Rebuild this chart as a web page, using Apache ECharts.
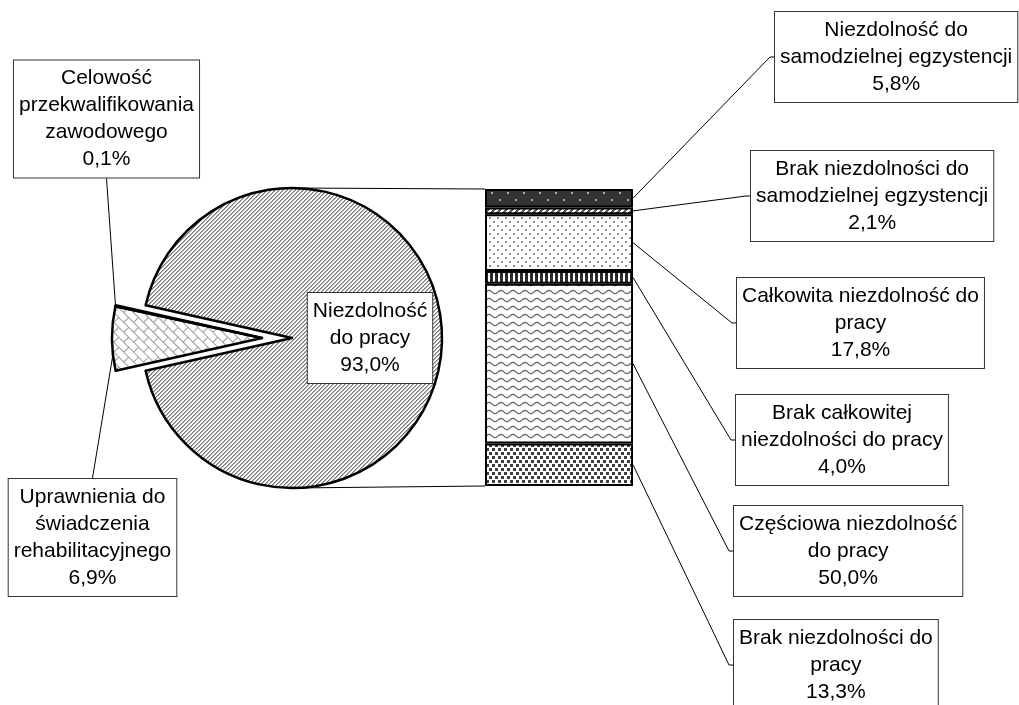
<!DOCTYPE html>
<html>
<head>
<meta charset="utf-8">
<script src="https://cdn.jsdelivr.net/npm/echarts@6/dist/echarts.min.js"></script>
<style>
  html, body { margin: 0; padding: 0; background: #fff; }
  #chart { width: 1019px; height: 705px; }
</style>
</head>
<body>
<div id="chart"></div>
<script>
// pie: first split (order: the two small slices, then the big one)
const pieNames = ['Uprawnienia do\nświadczenia\nrehabilitacyjnego', 'Celowość\nprzekwalifikowania\nzawodowego', 'Niezdolność\ndo pracy'];
const pieValues = [6.9, 0.1, 93.0];

// bar: breakdown of "Niezdolność do pracy", bottom to top
const barNames = [
  'Brak niezdolności do\npracy',
  'Częściowa niezdolność\ndo pracy',
  'Brak całkowitej\nniezdolności do pracy',
  'Całkowita niezdolność do\npracy',
  'Brak niezdolności do\nsamodzielnej egzystencji',
  'Niezdolność do\nsamodzielnej egzystencji'
];
const barValues = [13.3, 50.0, 4.0, 17.8, 2.1, 5.8];

// layout
const PIE_CX = 292, PIE_CY = 338, PIE_R = 150, EXPLODE = 30;
const BAR = { left: 485, top: 189, width: 148, height: 297 };
// label boxes: bar -> [left edge, centre y], pie -> [centre x, centre y]
const barLabelPos = [[733, 665], [733, 551], [735, 440], [736, 323], [750, 196], [774, 57]];
const pieLabelPos = [[92.5, 537.5], [106.5, 119]];

const FONT = '"Liberation Sans", Arial, sans-serif';

function fmt(v) {
  return v.toFixed(1).replace('.', ',') + '%';
}

// ---- fill patterns ----
function tile(w, h, bg, draw) {
  const c = document.createElement('canvas');
  c.width = w; c.height = h;
  const ctx = c.getContext('2d');
  ctx.fillStyle = bg;
  ctx.fillRect(0, 0, w, h);
  draw(ctx, w, h);
  return c;
}

const hatchMain = tile(4, 4, '#fff', function (ctx) {
  for (let x = 0; x < 4; x++) {
    for (let y = 0; y < 4; y++) {
      const k = (x + y) % 4;
      if (k === 0) { ctx.fillStyle = '#747474'; ctx.fillRect(x, y, 1, 1); }
      if (k === 1) { ctx.fillStyle = '#b4b4b4'; ctx.fillRect(x, y, 1, 1); }
    }
  }
});

const brick = tile(14, 14, '#fff', function (ctx) {
  ctx.fillStyle = '#9a9a9a';
  ctx.fillRect(0, 0, 14, 1);
  ctx.fillRect(0, 7, 14, 1);
  ctx.fillRect(0, 0, 1, 7);
  ctx.fillRect(7, 7, 1, 7);
});

const darkDots = tile(16, 14, '#333', function (ctx) {
  ctx.fillStyle = '#b0b0b0';
  ctx.fillRect(3, 3, 2, 2);
  ctx.fillRect(11, 10, 2, 2);
});

const wideHatch = tile(6, 6, '#fff', function (ctx) {
  ctx.fillStyle = '#5a5a5a';
  for (let x = 0; x < 6; x++) {
    for (let y = 0; y < 6; y++) {
      if ((x + y) % 6 < 3) ctx.fillRect(x, y, 1, 1);
    }
  }
});

const lightDots = tile(8, 8, '#fff', function (ctx) {
  ctx.fillStyle = '#8c8c8c';
  ctx.fillRect(1, 1, 2, 2);
  ctx.fillRect(5, 5, 2, 2);
});

const vStripes = tile(5, 4, '#fff', function (ctx) {
  ctx.fillStyle = '#2a2a2a';
  ctx.fillRect(0, 0, 3, 4);
});

const waves = tile(12, 8, '#fff', function (ctx) {
  ctx.strokeStyle = '#6e6e6e';
  ctx.lineWidth = 1.4;
  ctx.beginPath();
  for (let x = 0; x <= 12; x += 0.5) {
    const y = 4 + 1.6 * Math.sin(2 * Math.PI * x / 12);
    if (x === 0) ctx.moveTo(x, y); else ctx.lineTo(x, y);
  }
  ctx.stroke();
});

const denseSquares = tile(6, 8, '#fff', function (ctx) {
  ctx.fillStyle = '#404040';
  ctx.fillRect(0, 0, 3, 3);
  ctx.fillRect(3, 4, 3, 3);
});

function pat(img, rot) {
  return { image: img, repeat: 'repeat', rotation: rot || 0 };
}

const piePatterns = [pat(brick, Math.PI / 4), pat(brick, Math.PI / 4), pat(hatchMain)];
const barPatterns = [pat(denseSquares), pat(waves), pat(vStripes), pat(lightDots), pat(wideHatch), pat(darkDots)];

// ---- geometry ----
const pieTotal = pieValues.reduce((a, b) => a + b, 0);
const splitShare = (pieValues[0] + pieValues[1]) / pieTotal;
const START = 180 + splitShare * 180;          // small wedge centred on the left
const barTotal = Math.round(barValues.reduce((a, b) => a + b, 0) * 10) / 10;

function angleOf(idx, frac) {
  // angle (deg) inside slice idx, frac 0 = slice start, 1 = slice end
  let acc = 0;
  for (let i = 0; i < idx; i++) acc += pieValues[i];
  return START - (acc + pieValues[idx] * frac) / pieTotal * 360;
}
function arcPoint(cx, cy, deg) {
  const a = deg * Math.PI / 180;
  return [cx + PIE_R * Math.cos(a), cy - PIE_R * Math.sin(a)];
}

const boxLabel = {
  color: '#000',
  fontFamily: FONT,
  fontSize: 21,
  lineHeight: 27,
  backgroundColor: '#fff',
  borderColor: '#333',
  borderWidth: 1,
  padding: [5, 5, 4, 5],
  align: 'center'
};

// leader lines collected while labels are laid out
const leaders = {};

const chart = echarts.init(document.getElementById('chart'), null, { renderer: 'canvas' });

const hidden = {
  itemStyle: { color: 'rgba(0,0,0,0)', borderWidth: 0 },
  label: { show: false },
  labelLine: { show: false }
};

const series = [];

// main pie (big slice only)
series.push({
  type: 'pie',
  center: [PIE_CX, PIE_CY],
  radius: PIE_R,
  startAngle: START,
  clockwise: true,
  avoidLabelOverlap: false,
  silent: true,
  data: pieValues.map(function (v, i) {
    if (i !== 2) return Object.assign({ value: v, name: pieNames[i] }, hidden);
    return {
      value: v,
      name: pieNames[i],
      itemStyle: { color: piePatterns[i], borderColor: '#000', borderWidth: 2.5 },
      label: Object.assign({ show: true, position: 'inside', formatter: function (p) { return p.name + '\n' + fmt(p.value); } }, boxLabel),
      labelLine: { show: false }
    };
  })
});

// exploded wedge (two small slices)
series.push({
  type: 'pie',
  center: [PIE_CX - EXPLODE, PIE_CY],
  radius: PIE_R,
  startAngle: START,
  clockwise: true,
  avoidLabelOverlap: false,
  silent: true,
  data: pieValues.map(function (v, i) {
    if (i === 2) return Object.assign({ value: v, name: pieNames[i] }, hidden);
    return {
      value: v,
      name: pieNames[i],
      itemStyle: { color: piePatterns[i], borderColor: '#000', borderWidth: 2.5 },
      label: Object.assign({ show: true, position: 'outside', formatter: function (p) { return p.name + '\n' + fmt(p.value); } }, boxLabel),
      labelLine: { show: false }
    };
  }),
  labelLayout: function (p) {
    const pos = pieLabelPos[p.dataIndex];
    if (!pos) return {};
    const h = p.labelRect.height;
    const cx = pos[0], cy = pos[1];
    let anchor, edgeY;
    if (p.dataIndex === 0) {
      anchor = arcPoint(PIE_CX - EXPLODE, PIE_CY, angleOf(0, 0.25));
      edgeY = cy - h / 2;
    } else {
      anchor = arcPoint(PIE_CX - EXPLODE, PIE_CY, angleOf(1, 0.5));
      edgeY = cy + h / 2;
    }
    leaders['pie' + p.dataIndex] = [anchor, [cx, edgeY]];
    return { x: cx, y: cy, align: 'center', verticalAlign: 'middle' };
  }
});

// stacked bar of the big slice
barValues.forEach(function (v, i) {
  series.push({
    type: 'bar',
    name: barNames[i],
    stack: 'split',
    barWidth: '100%',
    silent: true,
    data: [v],
    itemStyle: { color: barPatterns[i], borderColor: '#000', borderWidth: 2 },
    label: Object.assign({ show: true, position: 'right', formatter: function (p) { return p.seriesName + '\n' + fmt(p.value); } }, boxLabel),
    labelLayout: function (p) {
      const pos = barLabelPos[i];
      const w = p.labelRect.width;
      const r = p.rect;
      const sx = r.x + r.width, sy = r.y + r.height / 2;
      leaders['bar' + i] = [[sx, sy], [pos[0] - 4, pos[1]], [pos[0], pos[1]]];
      return { x: pos[0] + w / 2, y: pos[1], align: 'center', verticalAlign: 'middle' };
    }
  });
});

chart.setOption({
  animation: false,
  backgroundColor: '#fff',
  grid: { left: BAR.left, top: BAR.top, width: BAR.width, height: BAR.height },
  xAxis: { type: 'category', data: [''], show: false },
  yAxis: { type: 'value', min: 0, max: barTotal, show: false },
  series: series
});

// connectors pie -> bar and the label leader lines
const lineStyle = { stroke: '#000', lineWidth: 1, fill: null };
const graphics = [
  { type: 'line', shape: { x1: PIE_CX, y1: PIE_CY - PIE_R, x2: BAR.left, y2: BAR.top }, style: lineStyle },
  { type: 'line', shape: { x1: PIE_CX, y1: PIE_CY + PIE_R, x2: BAR.left, y2: BAR.top + BAR.height }, style: lineStyle }
];
Object.keys(leaders).forEach(function (k) {
  graphics.push({ type: 'polyline', shape: { points: leaders[k] }, style: lineStyle, z: 1 });
});
chart.setOption({ graphic: graphics });
</script>
</body>
</html>
